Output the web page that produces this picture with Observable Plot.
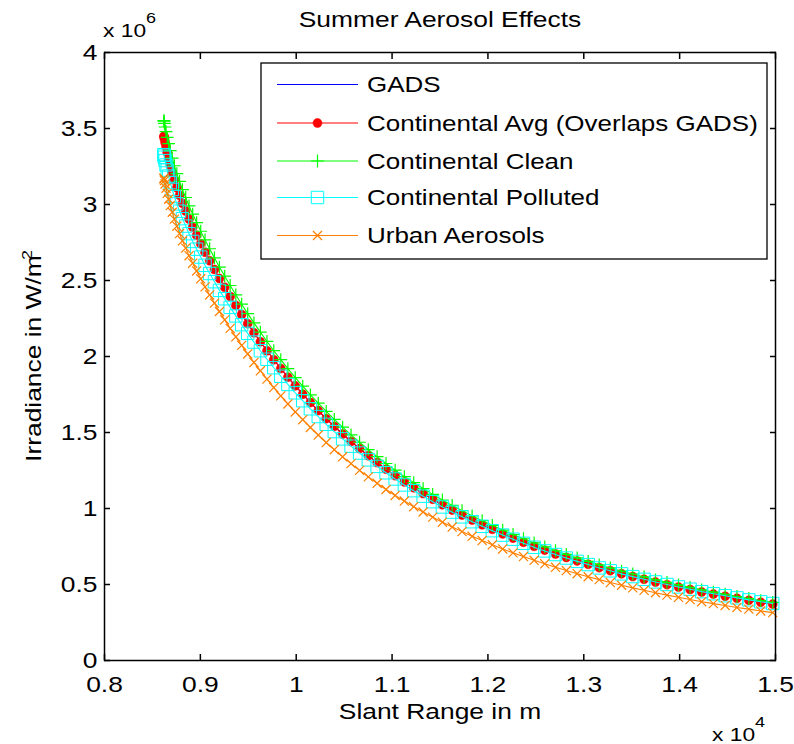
<!DOCTYPE html>
<html><head><meta charset="utf-8">
<script src="https://cdn.jsdelivr.net/npm/d3@7"></script>
<script src="https://cdn.jsdelivr.net/npm/@observablehq/plot@0.6"></script>
<style>
html,body{margin:0;padding:0;background:#fff;}
#chart{width:794px;height:744px;}
</style></head><body><div id="chart"></div>
<script>
// Slant range samples (m)
const slantRange = [8620, 8621, 8625, 8632, 8642, 8654, 8669, 8686, 8707, 8729,
  8755, 8783, 8813, 8847, 8882, 8920, 8961, 9004, 9049, 9097,
  9147, 9199, 9254, 9311, 9370, 9431, 9494, 9559, 9626, 9695,
  9766, 9839, 9913, 9990, 10068, 10148, 10230, 10313, 10397, 10484,
  10572, 10661, 10752, 10844, 10937, 11032, 11128, 11226, 11324, 11424,
  11525, 11627, 11730, 11835, 11940, 12046, 12154, 12262, 12371, 12482,
  12593, 12705, 12818, 12931, 13046, 13161, 13277, 13394, 13511, 13629,
  13748, 13868, 13988, 14109, 14230, 14352, 14475, 14598, 14722, 14846,
  14971];

// Irradiance (x 10^6 W/m^2)
const gads = [3.449, 3.445, 3.431, 3.408, 3.378, 3.342, 3.301, 3.256, 3.209, 3.160,
  3.110, 3.060, 3.008, 2.957, 2.904, 2.851, 2.797, 2.742, 2.686, 2.630,
  2.572, 2.513, 2.455, 2.395, 2.336, 2.276, 2.216, 2.156, 2.097, 2.038,
  1.979, 1.921, 1.864, 1.807, 1.752, 1.697, 1.644, 1.591, 1.540, 1.490,
  1.441, 1.394, 1.347, 1.302, 1.258, 1.216, 1.175, 1.136, 1.098, 1.061,
  1.025, 0.990, 0.957, 0.924, 0.893, 0.863, 0.833, 0.805, 0.778, 0.751,
  0.726, 0.701, 0.678, 0.655, 0.633, 0.611, 0.591, 0.571, 0.552, 0.534,
  0.516, 0.499, 0.483, 0.467, 0.451, 0.437, 0.423, 0.409, 0.396, 0.383,
  0.371];

const continentalAvg = [3.449, 3.445, 3.431, 3.408, 3.378, 3.342, 3.301, 3.256, 3.209, 3.160,
  3.110, 3.060, 3.008, 2.957, 2.904, 2.851, 2.797, 2.742, 2.686, 2.630,
  2.572, 2.513, 2.455, 2.395, 2.336, 2.276, 2.216, 2.156, 2.097, 2.038,
  1.979, 1.921, 1.864, 1.807, 1.752, 1.697, 1.644, 1.591, 1.540, 1.490,
  1.441, 1.394, 1.347, 1.302, 1.258, 1.216, 1.175, 1.136, 1.098, 1.061,
  1.025, 0.990, 0.957, 0.924, 0.893, 0.863, 0.833, 0.805, 0.778, 0.751,
  0.726, 0.701, 0.678, 0.655, 0.633, 0.611, 0.591, 0.571, 0.552, 0.534,
  0.516, 0.499, 0.483, 0.467, 0.451, 0.437, 0.423, 0.409, 0.396, 0.383,
  0.371];

const continentalClean = [3.552, 3.548, 3.534, 3.510, 3.479, 3.442, 3.400, 3.354, 3.305, 3.255,
  3.203, 3.152, 3.098, 3.046, 2.991, 2.937, 2.881, 2.824, 2.767, 2.709,
  2.649, 2.588, 2.529, 2.467, 2.406, 2.344, 2.282, 2.221, 2.160, 2.099,
  2.038, 1.979, 1.920, 1.861, 1.805, 1.748, 1.693, 1.639, 1.586, 1.535,
  1.484, 1.436, 1.387, 1.341, 1.296, 1.252, 1.210, 1.170, 1.131, 1.093,
  1.056, 1.020, 0.986, 0.952, 0.920, 0.889, 0.858, 0.829, 0.801, 0.774,
  0.748, 0.722, 0.698, 0.675, 0.652, 0.629, 0.609, 0.588, 0.569, 0.550,
  0.531, 0.514, 0.497, 0.481, 0.465, 0.450, 0.436, 0.421, 0.408, 0.394,
  0.382];

const continentalPolluted = [3.328, 3.324, 3.311, 3.289, 3.260, 3.226, 3.187, 3.144, 3.099, 3.052,
  3.004, 2.956, 2.907, 2.858, 2.808, 2.757, 2.706, 2.654, 2.600, 2.546,
  2.492, 2.435, 2.380, 2.323, 2.267, 2.209, 2.152, 2.095, 2.038, 1.982,
  1.926, 1.870, 1.816, 1.761, 1.709, 1.656, 1.605, 1.554, 1.506, 1.458,
  1.410, 1.365, 1.320, 1.277, 1.235, 1.194, 1.155, 1.117, 1.081, 1.045,
  1.010, 0.976, 0.945, 0.913, 0.883, 0.854, 0.825, 0.798, 0.771, 0.745,
  0.721, 0.697, 0.674, 0.652, 0.631, 0.609, 0.590, 0.570, 0.552, 0.534,
  0.517, 0.500, 0.484, 0.469, 0.453, 0.439, 0.426, 0.412, 0.399, 0.386,
  0.375];

const urbanAerosols = [3.173, 3.169, 3.157, 3.135, 3.107, 3.073, 3.035, 2.993, 2.949, 2.904,
  2.857, 2.809, 2.761, 2.713, 2.663, 2.614, 2.563, 2.511, 2.458, 2.405,
  2.351, 2.296, 2.241, 2.185, 2.129, 2.073, 2.017, 1.961, 1.906, 1.851,
  1.795, 1.741, 1.688, 1.635, 1.584, 1.533, 1.483, 1.434, 1.387, 1.340,
  1.295, 1.251, 1.208, 1.166, 1.125, 1.086, 1.049, 1.012, 0.977, 0.943,
  0.910, 0.878, 0.848, 0.817, 0.789, 0.761, 0.734, 0.708, 0.684, 0.659,
  0.636, 0.613, 0.592, 0.571, 0.551, 0.532, 0.513, 0.495, 0.478, 0.462,
  0.446, 0.430, 0.416, 0.401, 0.387, 0.374, 0.362, 0.349, 0.338, 0.326,
  0.315];

const seriesNames = ["GADS", "Continental Avg (Overlaps GADS)", "Continental Clean", "Continental Polluted", "Urban Aerosols"];
const xTicks = [8000, 9000, 10000, 11000, 12000, 13000, 14000, 15000];
const xTickLabels = ["0.8", "0.9", "1", "1.1", "1.2", "1.3", "1.4", "1.5"];
const yTicks = [0, 0.5, 1, 1.5, 2, 2.5, 3, 3.5, 4];
const yTickLabels = ["0", "0.5", "1", "1.5", "2", "2.5", "3", "3.5", "4"];
const titleText = "Summer Aerosol Effects";
const xLabelText = "Slant Range in m";
const yLabelText = "Irradiance in W/m";

// ---- styling ----
const FONT = "'Liberation Sans', Arial, Helvetica, sans-serif";
const SX = 1.2;
const FS = 22;
const colors = ["#0000ff", "#ff0000", "#00ff00", "#00ffff", "#ff8000"];
const symbols = [null, "circle", "plus", "square", "times"];
const symR = {circle: 4.5, plus: 4.2, square: 7, times: 4.2};
const W = 794, H = 744, ML = 104, MR = 19, MT = 52, MB = 84;
const frameW = W - ML - MR, frameH = H - MT - MB;

const allSeries = [gads, continentalAvg, continentalClean, continentalPolluted, urbanAerosols];
const rows = allSeries.map(ys => slantRange.map((x, i) => ({x, y: ys[i]})));

const xLab = new Map(xTicks.map((t, i) => [t, xTickLabels[i]]));
const yLab = new Map(yTicks.map((t, i) => [t, yTickLabels[i]]));

const marks = [];
rows.forEach((r, i) => {
  marks.push(Plot.line(r, {x: "x", y: "y", stroke: colors[i], strokeWidth: 1.1}));
  const s = symbols[i];
  if (s === "circle") marks.push(Plot.dot(r, {x: "x", y: "y", r: symR.circle, fill: colors[i], stroke: colors[i], strokeWidth: 0.5}));
  else if (s === "square") marks.push(Plot.dot(r, {x: "x", y: "y", symbol: "square", r: symR.square, fill: "none", stroke: colors[i], strokeWidth: 1}));
  else if (s) marks.push(Plot.dot(r, {x: "x", y: "y", symbol: s, r: symR[s], stroke: colors[i], strokeWidth: 1.2}));
});

const tickOpts = {stroke: "#000", strokeWidth: 1.5};
marks.push(
  Plot.axisX(xTicks, {anchor: "bottom", tickSize: 0, tickPadding: 16, tickFormat: d => xLab.get(d), fontSize: FS, label: null}),
  Plot.axisY(yTicks, {anchor: "left", tickSize: 0, tickPadding: 7, tickFormat: d => yLab.get(d), fontSize: FS, label: null}),
  // inward ticks on all four sides (Plot axis ticks shifted inside the frame)
  Plot.axisX(xTicks, {anchor: "bottom", tickSize: 6, dy: -6, tickFormat: () => "", label: null, ...tickOpts}),
  Plot.axisX(xTicks, {anchor: "top", tickSize: 6, dy: 6, tickFormat: () => "", label: null, ...tickOpts}),
  Plot.axisY(yTicks, {anchor: "left", tickSize: 6, dx: 6, tickFormat: () => "", label: null, ...tickOpts}),
  Plot.axisY(yTicks, {anchor: "right", tickSize: 6, dx: -6, tickFormat: () => "", label: null, ...tickOpts}),
  Plot.frame({stroke: "#000", strokeWidth: 1.5})
);

const chart = Plot.plot({
  width: W, height: H,
  marginLeft: ML, marginRight: MR, marginTop: MT, marginBottom: MB,
  style: {fontFamily: FONT, background: "#fff", color: "#000", overflow: "visible"},
  x: {domain: [8000, 15000]},
  y: {domain: [0, 4]},
  marks
});
document.getElementById("chart").appendChild(chart);

const svg = d3.select(chart);
// widen tick labels like the original rendering
svg.selectAll('g[aria-label="x-axis tick label"] text, g[aria-label="y-axis tick label"] text').each(function() {
  const t = d3.select(this);
  let tr = t.attr("transform");
  if (!tr) {
    const x = +t.attr("x") || 0, y = +t.attr("y") || 0;
    t.attr("x", null).attr("y", null);
    tr = `translate(${x},${y})`;
  }
  t.attr("transform", tr + ` scale(${SX},1)`);
});

function addText(parts, x, y, {size = FS, anchor = "start", rotate = 0} = {}) {
  const t = svg.append("text")
    .attr("transform", `translate(${x},${y})${rotate ? ` rotate(${rotate})` : ""} scale(${SX},1)`)
    .attr("text-anchor", anchor).attr("font-size", size).attr("font-family", FONT).attr("fill", "#000");
  parts.forEach(p => {
    const ts = t.append("tspan").text(p.text);
    if (p.size) ts.attr("font-size", p.size);
    if (p.dy) ts.attr("dy", p.dy);
    if (p.dx) ts.attr("dx", p.dx);
  });
  return t;
}

addText([{text: titleText}], 440, 27, {anchor: "middle"});
addText([{text: xLabelText}], 440, 719, {anchor: "middle"});
addText([{text: yLabelText}, {text: "2", size: 15, dy: -9, dx: -4}], 41, 356, {anchor: "middle", rotate: -90});
addText([{text: "x 10"}, {text: "6", size: 15, dy: -14, dx: 0}], 103, 37, {size: 19});
addText([{text: "x 10"}, {text: "4", size: 15, dy: -14, dx: 0}], 712, 741, {size: 19});

// legend
const lg = svg.append("g").attr("text-anchor", "start");
lg.append("rect").attr("x", 261).attr("y", 63).attr("width", 506).attr("height", 196)
  .attr("fill", "#fff").attr("stroke", "#000").attr("stroke-width", 1.3);
const rowY = [84.5, 123, 161, 197.5, 235.5];
const d3sym = {circle: d3.symbolCircle, plus: d3.symbolPlus, square: d3.symbolSquare, times: d3.symbolTimes};
seriesNames.forEach((name, i) => {
  const y = rowY[i];
  lg.append("line").attr("x1", 277).attr("x2", 358).attr("y1", y).attr("y2", y)
    .attr("stroke", colors[i]).attr("stroke-width", 1.2);
  const s = symbols[i];
  if (s) {
    const size = Math.PI * symR[s] * symR[s];
    const p = lg.append("path").attr("d", d3.symbol(d3sym[s], size)()).attr("transform", `translate(317.5,${y})`);
    if (s === "circle") p.attr("fill", colors[i]).attr("stroke", colors[i]).attr("stroke-width", 0.5);
    else p.attr("fill", "none").attr("stroke", colors[i]).attr("stroke-width", s === "square" ? 1 : 1.2);
  }
  lg.append("text").attr("transform", `translate(367,${y + 7.5}) scale(1.22,1)`)
    .attr("text-anchor", "start")
    .attr("font-size", 21.3).attr("font-family", FONT).attr("fill", "#000").text(name);
});
</script>
</body></html>
